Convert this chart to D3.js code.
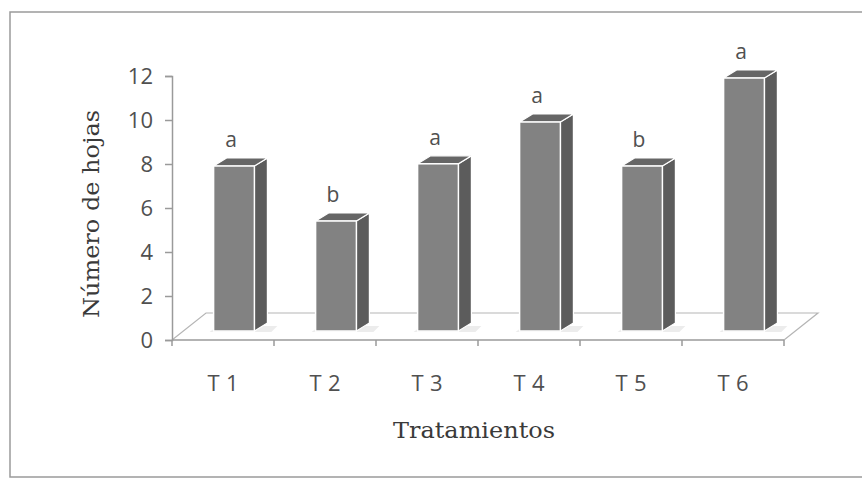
<!DOCTYPE html>
<html>
<head>
<meta charset="utf-8">
<script src="https://cdn.jsdelivr.net/npm/d3@7"></script>
<style>
  html, body { margin: 0; padding: 0; background: #fff; }
  svg { display: block; }
</style>
</head>
<body>
<svg id="chart" width="862" height="479"></svg>
<script>
// Número de hojas por tratamiento, con letras de significancia
const categories = ["T1", "T2", "T3", "T4", "T5", "T6"];
const values = [7.5, 5.0, 7.6, 9.5, 7.5, 11.5];
const letters = ["a", "b", "a", "a", "b", "a"];
const yTicks = [0, 2, 4, 6, 8, 10, 12];

const svg = d3.select("#chart");
const W = 862, H = 479;

// Outer frame
svg.append("rect")
  .attr("x", 10).attr("y", 12)
  .attr("width", W + 10).attr("height", H - 14)
  .attr("fill", "#fff")
  .attr("stroke", "#9a9a9a").attr("stroke-width", 1.5);

const x0 = 172, x1 = 784, yBase = 340, yTop = 76;
const x = d3.scaleBand().domain(categories).range([x0, x1]).padding(0);
const y = d3.scaleLinear().domain([0, 12]).range([yBase, yTop]);

// 3D floor depth and bar placement within it
const floorDx = 34, floorDy = -27;
const barDx = 11, barDy = -9;     // bars sit a third of the way into the floor
const topDx = 13, topDy = -8;     // depth of each column
const bw = x.bandwidth() * 0.4;

// Floor
const floor = svg.append("g").attr("fill", "none").attr("stroke", "#b5b5b5").attr("stroke-width", 1.2);
floor.append("path")
  .attr("d", `M${x0},${yBase} L${x0 + floorDx},${yBase + floorDy} L${x1 + floorDx},${yBase + floorDy} L${x1},${yBase}`);

// Y axis
const yAxis = svg.append("g").attr("transform", `translate(${x0},0)`)
  .call(d3.axisLeft(y).tickValues(yTicks).tickSize(7).tickPadding(12).tickFormat(d3.format("d")));
yAxis.select(".domain").attr("stroke", "#9a9a9a").attr("stroke-width", 1.5);
yAxis.selectAll(".tick line").attr("stroke", "#9a9a9a").attr("stroke-width", 1.5);
yAxis.selectAll(".tick text")
  .attr("fill", "#505050")
  .style("font-family", "'Open Sans', sans-serif")
  .style("font-size", "22px");

// X axis line with boundary ticks
const xAxisG = svg.append("g");
xAxisG.append("line")
  .attr("x1", x0).attr("x2", x1).attr("y1", yBase).attr("y2", yBase)
  .attr("stroke", "#9a9a9a").attr("stroke-width", 1.5);
const bounds = categories.map(c => x(c)).concat([x1]);
xAxisG.selectAll("line.tk").data(bounds).join("line").attr("class", "tk")
  .attr("x1", d => d).attr("x2", d => d)
  .attr("y1", yBase).attr("y2", yBase + 6)
  .attr("stroke", "#9a9a9a").attr("stroke-width", 1.5);
xAxisG.selectAll("text").data(categories).join("text")
  .attr("x", d => x(d) + x.bandwidth() / 2)
  .attr("y", 391)
  .attr("text-anchor", "middle")
  .attr("fill", "#505050")
  .attr("textLength", 31).attr("lengthAdjust", "spacing")
  .style("font-family", "'Open Sans', sans-serif")
  .style("font-size", "22px")
  .text(d => d);

// Columns
const bars = svg.append("g").selectAll("g").data(categories).join("g");
bars.each(function (c, i) {
  const g = d3.select(this);
  const left = x(c) + x.bandwidth() / 2 + barDx - bw / 2;
  const right = left + bw;
  const bottom = yBase + barDy;
  const top = y(values[i]) + barDy;
  // soft floor shadow
  g.append("path")
    .attr("d", `M${left - 4},${bottom + 1} L${right + topDx + 4},${bottom + 1} L${right + topDx + 10},${bottom - 5} L${left + 4},${bottom - 5} Z`)
    .attr("fill", "#e4e4e4").attr("opacity", 0.7);
  // side face
  g.append("path")
    .attr("d", `M${right},${bottom} L${right},${top} L${right + topDx},${top + topDy} L${right + topDx},${bottom + topDy} Z`)
    .attr("fill", "#5c5c5c").attr("stroke", "#fff").attr("stroke-width", 1.2);
  // top face
  g.append("path")
    .attr("d", `M${left},${top} L${left + topDx},${top + topDy} L${right + topDx},${top + topDy} L${right},${top} Z`)
    .attr("fill", "#666").attr("stroke", "#fff").attr("stroke-width", 1.2);
  // front face
  g.append("rect")
    .attr("x", left).attr("y", top)
    .attr("width", bw).attr("height", bottom - top)
    .attr("fill", "#828282").attr("stroke", "#fff").attr("stroke-width", 1.5);
  // significance letter
  g.append("text")
    .attr("x", left + bw / 2 - 3)
    .attr("y", top - 19)
    .attr("text-anchor", "middle")
    .attr("fill", "#505050")
    .style("font-family", "'Open Sans', sans-serif")
    .style("font-size", "21px")
    .text(letters[i]);
});

// Axis titles
svg.append("text")
  .attr("x", 474).attr("y", 438)
  .attr("text-anchor", "middle")
  .attr("fill", "#3a3a3a")
  .attr("textLength", 162).attr("lengthAdjust", "spacingAndGlyphs")
  .style("font-family", "'DejaVu Serif', serif")
  .style("font-size", "23px")
  .text("Tratamientos");

svg.append("text")
  .attr("transform", "translate(99,214) rotate(-90)")
  .attr("text-anchor", "middle")
  .attr("fill", "#3a3a3a")
  .attr("textLength", 208).attr("lengthAdjust", "spacingAndGlyphs")
  .style("font-family", "'DejaVu Serif', serif")
  .style("font-size", "23px")
  .text("Número de hojas");
</script>
</body>
</html>
